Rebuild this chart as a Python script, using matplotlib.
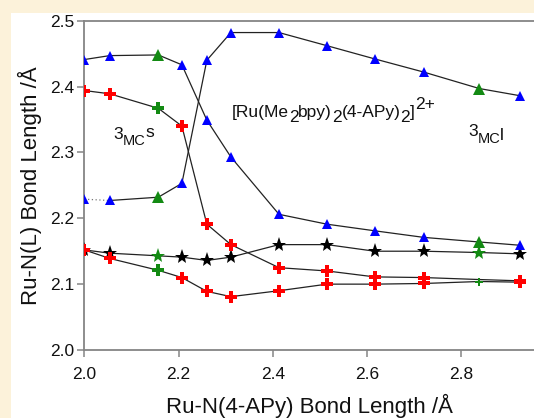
import matplotlib
matplotlib.use("Agg")
import matplotlib.pyplot as plt
from matplotlib.patches import Rectangle
from matplotlib.transforms import offset_copy
from matplotlib.font_manager import FontProperties

# Ru-N(4-APy) scan points (Å) and the five Ru-N(L) bond lengths at each point
ru_n_apy = [2.0, 2.054, 2.157, 2.207, 2.26, 2.311, 2.413, 2.515, 2.616, 2.72, 2.838, 2.925]
blue_falling = [2.441, 2.447, 2.448, 2.433, 2.349, 2.293, 2.206, 2.191, 2.181, 2.171, 2.164, 2.159]
blue_rising = [2.229, 2.227, 2.232, 2.253, 2.440, 2.482, 2.482, 2.462, 2.442, 2.422, 2.397, 2.386]
red_upper = [2.394, 2.389, 2.367, 2.340, 2.191, 2.160, 2.125, 2.120, 2.111, 2.110, 2.107, 2.105]
red_lower = [2.152, 2.139, 2.121, 2.110, 2.089, 2.081, 2.090, 2.100, 2.100, 2.101, 2.104, 2.103]
black_star = [2.152, 2.147, 2.143, 2.141, 2.136, 2.141, 2.160, 2.160, 2.150, 2.150, 2.148, 2.146]

MC_S, MC_L = 2, 10          # indices of the 3MCs / 3MCl minima (green)

CREAM = "#fcf2da"
LINE = "#222222"
SPINE = "#858585"
GREEN = "#138a13"
INK = "#111111"
FAMILY = ["Liberation Sans", "DejaVu Sans"]

plt.rcParams.update({"font.family": FAMILY})

fig = plt.figure(figsize=(5.34, 4.18), dpi=100, facecolor=CREAM)
fig.add_artist(Rectangle((11 / 534, 0), 1, (418 - 13) / 418, transform=fig.transFigure,
                         facecolor="white", edgecolor="none", zorder=0))
ax = fig.add_axes([84.3 / 534, 68 / 418, (534 - 84.3) / 534, 329.3 / 418])
ax.set_facecolor("white")


def series(y, marker, color, ms, green_ms, skip=(), dotted_start=False):
    xs = ru_n_apy
    if dotted_start:
        ax.plot(xs[:2], y[:2], ls=(0, (1, 2)), color="#777777", lw=0.9, zorder=2)
        ax.plot(xs[1:], y[1:], color=LINE, lw=0.9, zorder=2)
    else:
        ax.plot(xs, y, color=LINE, lw=0.9, zorder=2)
    idx = [i for i in range(len(xs)) if i not in (MC_S, MC_L) and i not in skip]
    ax.plot([xs[i] for i in idx], [y[i] for i in idx], ls="none", marker=marker,
            color=color, ms=ms, mew=0, zorder=3)
    for i, gms in zip((MC_S, MC_L), green_ms):
        if gms:
            ax.plot(xs[i], y[i], ls="none", marker=marker, color=GREEN, ms=gms, mew=0, zorder=4)


series(black_star, "*", "black", 11, (11, 11))
series(blue_falling, "^", "#0000ff", 7.5, (9, 9))
series(blue_rising, "^", "#0000ff", 7.5, (9, 9), dotted_start=True)
series(red_upper, "P", "#ff0000", 9, (8.5, 0))
series(red_lower, "P", "#ff0000", 9, (8.5, 5.5))

ax.set_xlim(2.0, 2.954)
ax.set_ylim(2.0, 2.5)
ax.set_xticks([2.0, 2.2, 2.4, 2.6, 2.8])
ax.set_yticks([2.0, 2.1, 2.2, 2.3, 2.4, 2.5])
ax.xaxis.set_major_formatter(matplotlib.ticker.FormatStrFormatter("%.1f"))
ax.yaxis.set_major_formatter(matplotlib.ticker.FormatStrFormatter("%.1f"))
ax.tick_params(axis="both", direction="out", length=5, width=1.1, color=SPINE,
               labelsize=12.5, labelcolor=INK)
ax.tick_params(axis="x", pad=7)
ax.tick_params(axis="y", pad=2)
for side in ("left", "bottom", "top"):
    ax.spines[side].set_color(SPINE)
    ax.spines[side].set_linewidth(1.3)
ax.spines["right"].set_visible(False)

ax.set_xlabel("Ru-N(4-APy) Bond Length /Å", fontsize=16, labelpad=9, color=INK)
ax.set_ylabel("Ru-N(L) Bond Length /Å", fontsize=16, labelpad=6, color=INK)

renderer = fig.canvas.get_renderer()


def advance(text, size):
    """Advance width (pt) of a string, free of the glyph ink bounds at either end."""
    fp = FontProperties(family=FAMILY, size=size)
    w_full = renderer.get_text_width_height_descent("H" + text + "H", fp, ismath=False)[0]
    w_pad = renderer.get_text_width_height_descent("HH", fp, ismath=False)[0]
    return (w_full - w_pad) * 72 / fig.dpi


def rich(x, y, parts):
    """Lay text pieces side by side on a common baseline, each raised/lowered by its shift (pt)."""
    dx = 0.0
    for text, shift, size in parts:
        tr = offset_copy(ax.transData, fig=fig, x=dx, y=shift, units="points")
        ax.text(x, y, text, fontsize=size, va="baseline", ha="left", color=INK, transform=tr)
        dx += advance(text, size)


rich(2.3126, 2.354, [("[Ru(Me", 0, 12.5), ("2", -3.4, 12.5), ("bpy)", 0, 12.5),
                     ("2", -3.4, 12.5), ("(4-APy)", 0, 12.5), ("2", -3.4, 12.5),
                     ("]", 0, 12.5), ("2+", 5.5, 12.5)])
rich(2.0615, 2.320, [("3", 0, 12.5), ("MC", -4.3, 10.5), ("s", 1.7, 12.5)])
rich(2.8138, 2.3255, [("3", 0, 12.5), ("MC", -5.3, 10.5), ("l", -3.0, 12.5)])

fig.savefig("out.png", dpi=100, facecolor=CREAM)
